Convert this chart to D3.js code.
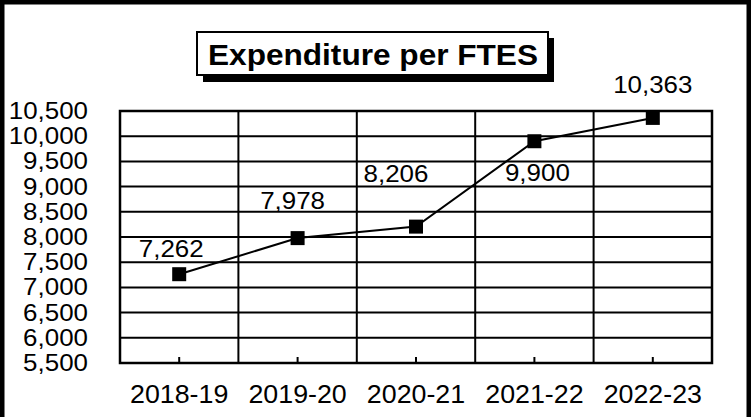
<!DOCTYPE html>
<head>
    <meta charset="utf-8">
    <script src="https://d3js.org/d3.v7.min.js"></script>
    <style>
        body {
            margin: 0;
            background: #fff;
        }
        text {
            font-family: "Liberation Sans", Arial, sans-serif;
            fill: #000;
        }
    </style>
</head>
<body>
    <script>
        var years = ["2018-19", "2019-20", "2020-21", "2021-22", "2022-23"];
        var expenditure = [7262, 7978, 8206, 9900, 10363];
        var yTicks = [5500, 6000, 6500, 7000, 7500, 8000, 8500, 9000, 9500, 10000, 10500];

        // where Excel put each value label, relative to its marker
        var labelShift = [[-8, -17], [-5, -29], [-20, -45], [3, 40], [0, -25]];

        var width = 755, height = 417;
        var plotL = 120, plotR = 712, plotT = 111, plotB = 363;

        var svg = d3.select("body").append("svg")
            .attr("width", width)
            .attr("height", height);

        svg.append("rect")
            .attr("width", width).attr("height", height)
            .attr("fill", "#fff");

        var x = d3.scaleBand().domain(years).range([plotL, plotR]);
        var y = d3.scaleLinear().domain([5500, 10500]).range([plotB, plotT]);
        var cx = function(d) { return x(d) + x.bandwidth() / 2; };

        // stretch text a little, the original is drawn wider than Arial
        function widen(sel, k) {
            sel.each(function() {
                var w = this.getComputedTextLength();
                d3.select(this).attr("textLength", w * k).attr("lengthAdjust", "spacingAndGlyphs");
            });
        }

        // horizontal gridlines
        svg.append("g")
            .selectAll("line")
            .data(yTicks)
            .join("line")
            .attr("x1", plotL).attr("x2", plotR)
            .attr("y1", function(d) { return y(d); })
            .attr("y2", function(d) { return y(d); })
            .attr("stroke", "#000")
            .attr("stroke-width", 2);

        // vertical category lines
        svg.append("g")
            .selectAll("line")
            .data(years)
            .join("line")
            .attr("x1", function(d) { return x(d); })
            .attr("x2", function(d) { return x(d); })
            .attr("y1", plotT).attr("y2", plotB)
            .attr("stroke", "#000")
            .attr("stroke-width", 2);

        // small ticks at category centres
        svg.append("g")
            .selectAll("line")
            .data(years)
            .join("line")
            .attr("x1", cx).attr("x2", cx)
            .attr("y1", plotB).attr("y2", plotB - 6)
            .attr("stroke", "#000")
            .attr("stroke-width", 2);

        svg.append("rect")
            .attr("x", plotL).attr("y", plotT)
            .attr("width", plotR - plotL).attr("height", plotB - plotT)
            .attr("fill", "none")
            .attr("stroke", "#000")
            .attr("stroke-width", 2.5);

        // y labels
        svg.append("g")
            .selectAll("text")
            .data(yTicks)
            .join("text")
            .attr("x", 88)
            .attr("y", function(d) { return y(d) + 8; })
            .attr("text-anchor", "end")
            .style("font-size", "24px")
            .text(d3.format(","))
            .call(widen, 1.08);

        // x labels
        svg.append("g")
            .selectAll("text")
            .data(years)
            .join("text")
            .attr("x", cx)
            .attr("y", 403)
            .attr("text-anchor", "middle")
            .style("font-size", "26px")
            .text(function(d) { return d; })
            .call(widen, 1.03);

        // line + markers
        var line = d3.line()
            .x(function(d, i) { return cx(years[i]); })
            .y(function(d) { return y(d); });

        svg.append("path")
            .datum(expenditure)
            .attr("d", line)
            .attr("fill", "none")
            .attr("stroke", "#000")
            .attr("stroke-width", 2);

        svg.append("g")
            .selectAll("rect")
            .data(expenditure)
            .join("rect")
            .attr("x", function(d, i) { return cx(years[i]) - 7; })
            .attr("y", function(d) { return y(d) - 7; })
            .attr("width", 14).attr("height", 14)
            .attr("fill", "#000");

        svg.append("g")
            .selectAll("text")
            .data(expenditure)
            .join("text")
            .attr("x", function(d, i) { return cx(years[i]) + labelShift[i][0]; })
            .attr("y", function(d, i) { return y(d) + labelShift[i][1]; })
            .attr("text-anchor", "middle")
            .style("font-size", "24px")
            .text(d3.format(","))
            .call(widen, 1.08);

        // title box with shadow
        svg.append("rect")
            .attr("x", 203).attr("y", 38)
            .attr("width", 351).attr("height", 44)
            .attr("fill", "#000");
        svg.append("rect")
            .attr("x", 197).attr("y", 32)
            .attr("width", 351).attr("height", 43)
            .attr("fill", "#fff")
            .attr("stroke", "#000")
            .attr("stroke-width", 2);
        svg.append("text")
            .attr("x", 373).attr("y", 65)
            .attr("text-anchor", "middle")
            .attr("textLength", 330)
            .attr("lengthAdjust", "spacingAndGlyphs")
            .style("font-size", "30px")
            .style("font-weight", "bold")
            .text("Expenditure per FTES");

        // outer frame
        svg.append("rect")
            .attr("x", 2.25).attr("y", 2.25)
            .attr("width", 746.5).attr("height", 440)
            .attr("fill", "none")
            .attr("stroke", "#000")
            .attr("stroke-width", 4.5);
    </script>
</body>
